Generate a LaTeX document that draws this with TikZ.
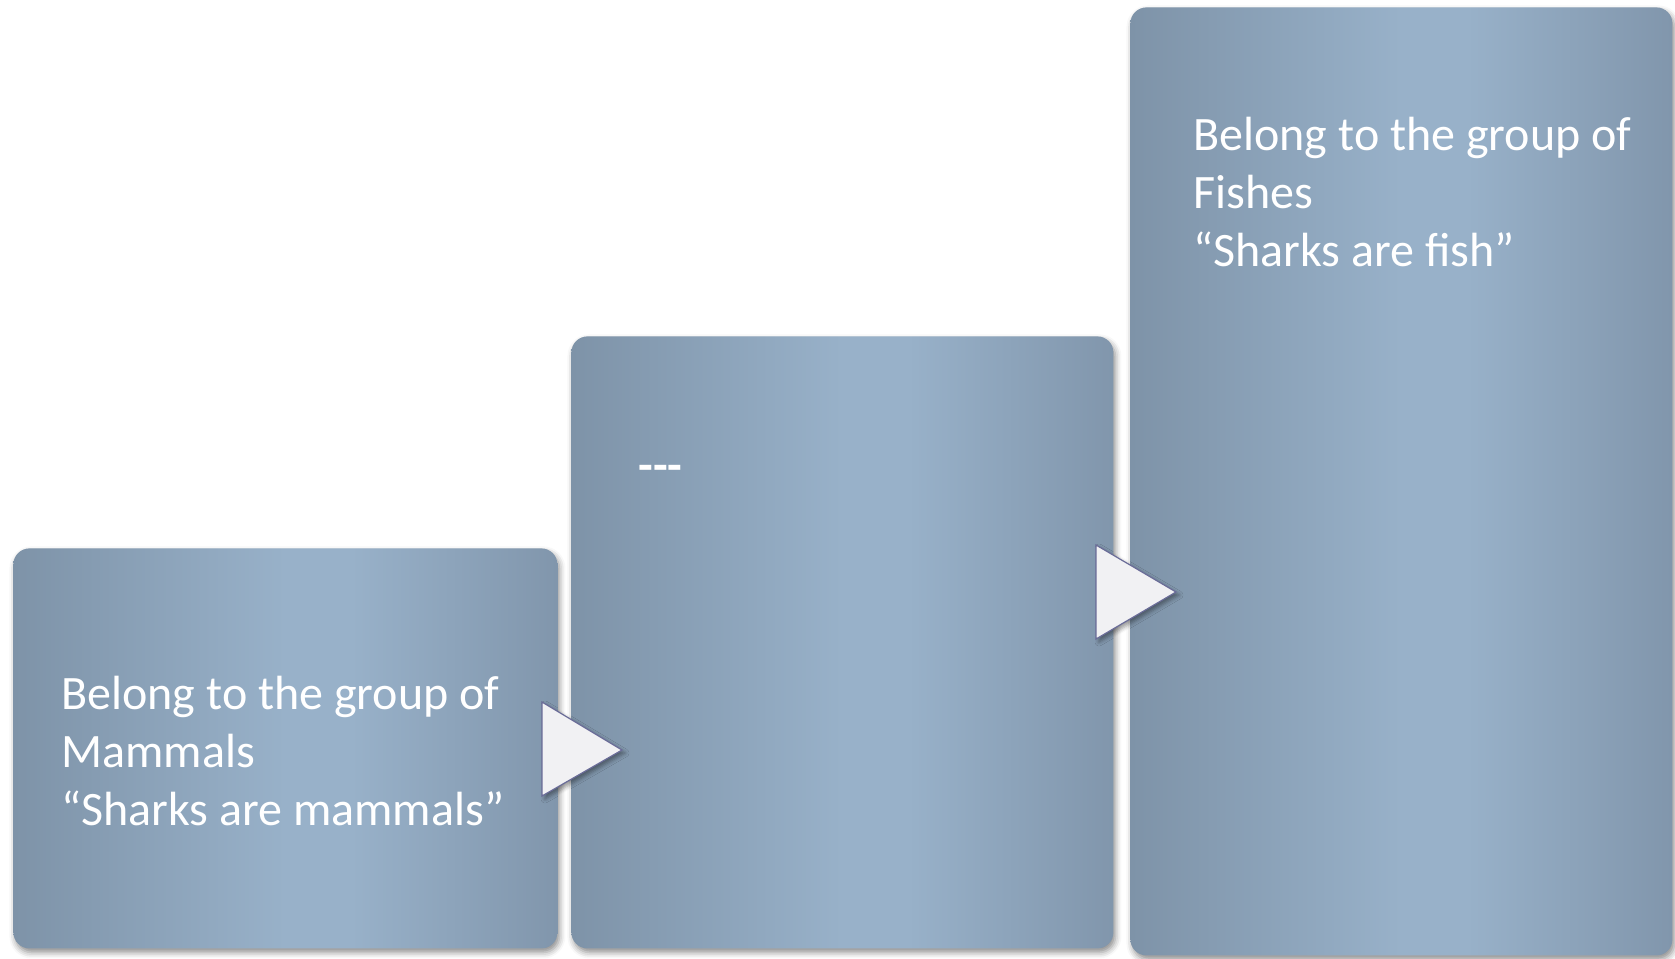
\documentclass[tikz,border=0pt]{standalone}
\usepackage{fontspec}
\setmainfont{Carlito}
\usetikzlibrary{shadows.blur}
\definecolor{bxL}{HTML}{7E93A8}
\definecolor{bxM}{HTML}{98B1C9}
\definecolor{bxR}{HTML}{8196AC}
\definecolor{triF}{HTML}{F1F1F3}
\definecolor{triD}{HTML}{6A6C98}
\pgfdeclarehorizontalshading{boxsh}{100bp}{color(0bp)=(bxL); color(25bp)=(bxL); color(50bp)=(bxM); color(56bp)=(bxM); color(75bp)=(bxR); color(100bp)=(bxR)}
\tikzset{
  box/.style={rounded corners=8pt, shading=boxsh, shading angle=0,
    draw=none, anchor=north west, inner sep=0pt,
    blur shadow={shadow xshift=1pt, shadow yshift=-2pt, shadow blur radius=3pt, shadow opacity=45}},
  tri/.style={fill=triF, draw=triD, line width=0.6pt, line join=miter,
    blur shadow={shadow xshift=1.5pt, shadow yshift=-1.5pt, shadow blur radius=2pt, shadow opacity=40}},
  lbl/.style={text=white, align=left, anchor=base west, inner sep=0pt,
    font=\fontsize{24}{28.9}\selectfont}
}
\begin{document}
\begin{tikzpicture}[x=0.5pt,y=-0.5pt]
\useasboundingbox (0,0) rectangle (1675,958);
\node[box, minimum width=272pt, minimum height=200pt] (b1) at (13,548) {};
\node[box, minimum width=271pt, minimum height=306pt] (b2) at (571,336) {};
\node[box, minimum width=271pt, minimum height=474pt] (b3) at (1130,7) {};
\node[lbl] (t1) at (61,825) {Belong to the group of\\Mammals\\“Sharks are mammals”};
\node[lbl, font=\bfseries\fontsize{24}{28.9}\selectfont] (t2) at (638,481) {-\kern0pt-\kern0pt-};
\node[lbl] (t3) at (1193,266) {Belong to the group of\\Fishes\\“Sharks are fish”};
\path[tri] (542,702) -- (622,750) -- (542,796) -- cycle;
\path[tri] (1096,545) -- (1176,592) -- (1096,639) -- cycle;
\end{tikzpicture}
\end{document}
